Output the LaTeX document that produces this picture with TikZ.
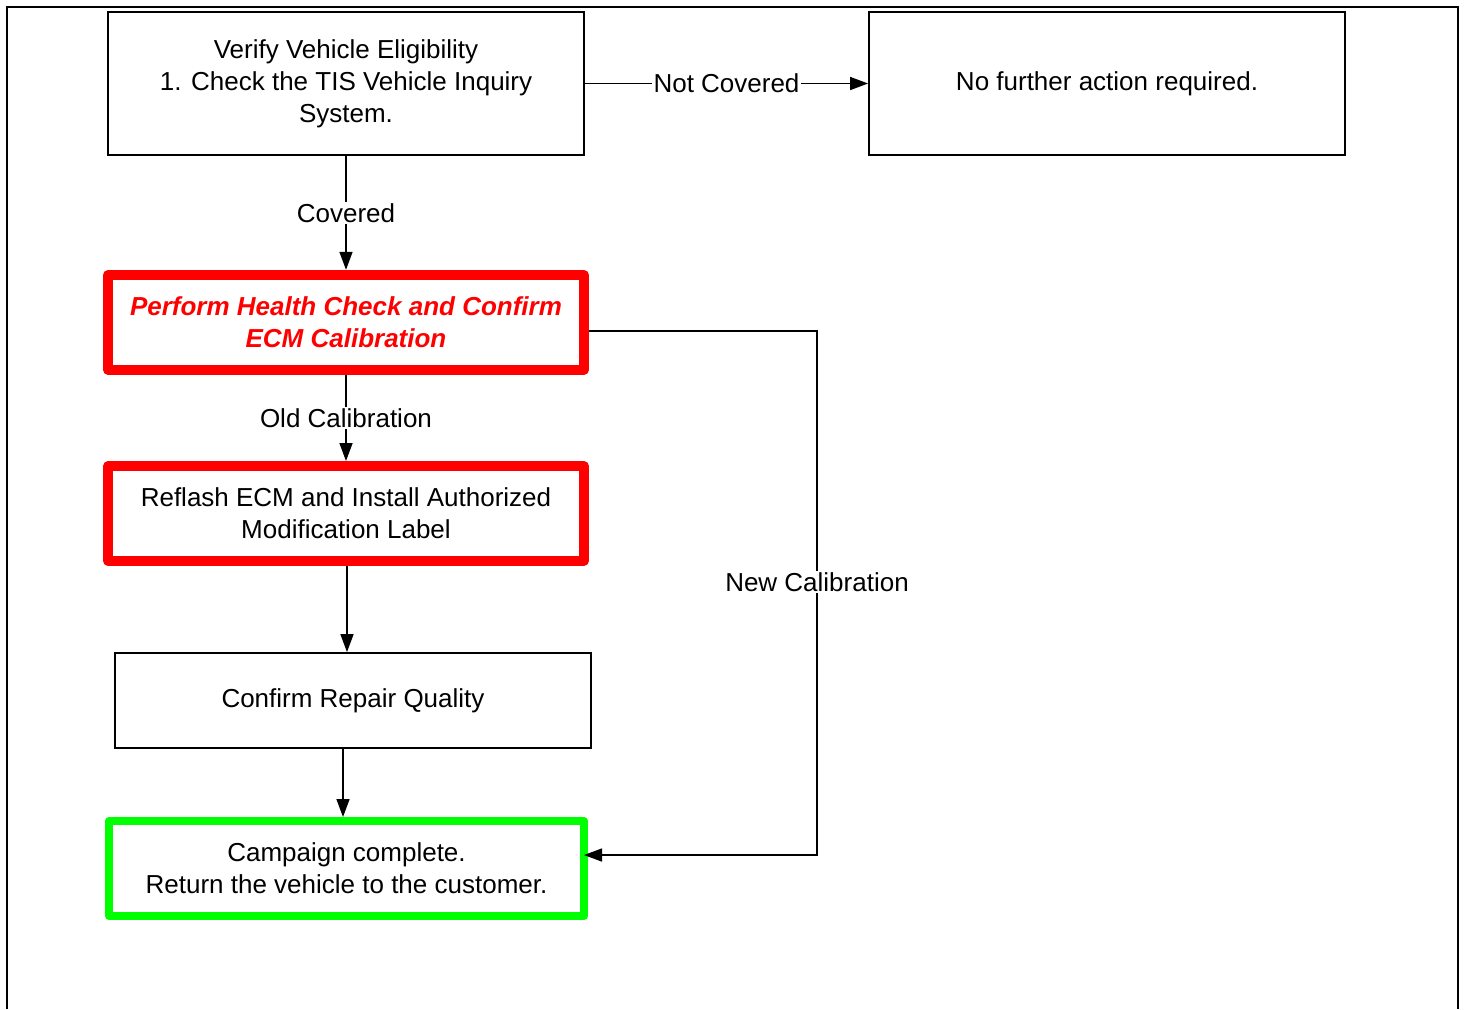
\documentclass[tikz,border=0pt]{standalone}
\usepackage{fontspec}
\setmainfont{Liberation Sans}
\usetikzlibrary{arrows.meta}
\definecolor{alertred}{RGB}{255,0,0}
\definecolor{donegreen}{RGB}{0,255,0}

\begin{document}
\begin{tikzpicture}[x=0.5pt,y=-0.5pt,
  txt/.style={font=\fontsize{13}{16}\selectfont},
  box/.style={txt, draw=black, line width=0.9pt, align=center,
    minimum width=238pt, minimum height=47.5pt, inner sep=0pt},
  redbox/.style={box, draw=alertred, line width=5pt, line join=round,
    minimum width=237.75pt},
  greenbox/.style={box, draw=donegreen, line width=4pt, line join=round,
    minimum width=237.5pt},
  conn/.style={draw=black, line width=0.75pt,
    -{Triangle[length=9pt,width=6.5pt]}},
  lbl/.style={txt, fill=white, inner sep=0.8pt}]

  \useasboundingbox (0,0) rectangle (1465,1009);

  % open frame around the page
  \draw[line width=1pt] (7,1009) -- (7,7) -- (1458,7) -- (1458,1009);

  % process boxes
  \node[box, minimum height=71.5pt] (verify) at (346,83.5)
    {Verify Vehicle Eligibility\\1. Check the TIS Vehicle Inquiry\\System.};
  \node[box, minimum height=71.5pt] (nofurther) at (1107,83.5)
    {No further action required.};
  \node[redbox, text=alertred, font=\fontsize{13}{16}\selectfont\bfseries\itshape]
    (perform) at (346,322.3)
    {Perform Health Check and Confirm\\ECM Calibration};
  \node[redbox] (reflash) at (346,513.5)
    {Reflash ECM and Install Authorized\\Modification Label};
  \node[box] (confirm) at (353,700.5) {Confirm Repair Quality};
  \node[greenbox] (campaign) at (346.5,868.5)
    {Campaign complete.\\Return the vehicle to the customer.};

  % connectors
  \draw[conn] (verify) -- node[lbl] {Not Covered} (nofurther);
  \draw[conn] (verify) -- node[lbl] {Covered} (perform);
  \draw[conn] (perform) -- node[lbl] {Old Calibration} (reflash);

  \coordinate (rq) at (347,0);
  \draw[conn] (reflash.south -| rq) -- (confirm.north -| rq);
  \coordinate (qc) at (343,0);
  \draw[conn] (confirm.south -| qc) -- (campaign.north -| qc);

  \coordinate (ncA) at (817,331);
  \coordinate (ncB) at (817,855);
  \draw[conn] (perform.east |- ncA) -- (ncA)
    -- node[lbl, pos=0.479] {New Calibration} (ncB)
    -- ([xshift=-2pt]campaign.east |- ncB);
\end{tikzpicture}
\end{document}
